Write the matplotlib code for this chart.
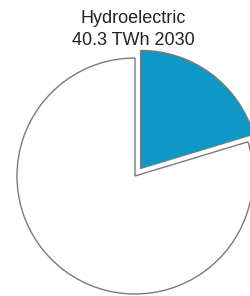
import matplotlib
matplotlib.use("Agg")
import matplotlib.pyplot as plt

# slice values (TWh) - hydro share vs rest
labels = ["Hydroelectric", "Other"]
values = [40.3, 158.0]
colors = ["#0e98c6", "#ffffff"]
explode = [0.08, 0.0]
title_lines = ["Hydroelectric", "40.3 TWh 2030"]

fig = plt.figure(figsize=(2.5, 2.96), dpi=100)
ax = fig.add_axes([0, 0, 1, 1])

ax.pie(values, colors=colors, explode=explode, startangle=90,
       counterclock=False, radius=1.0,
       wedgeprops=dict(edgecolor="#7a7a7a", linewidth=1.0))

# pixel mapping: centre at (135, 176), radius 118 px
ax.set_xlim(-135 / 118, (250 - 135) / 118)
ax.set_ylim(-(296 - 176) / 118, 176 / 118)
ax.set_aspect("auto")
ax.axis("off")

font = ["Liberation Sans", "DejaVu Sans"]
ax.text(-0.013, (176 - 23) / 118, title_lines[0], ha="center", va="baseline",
        fontsize=13, color="#222222", family=font)
ax.text(-0.013, (176 - 45) / 118, title_lines[1], ha="center", va="baseline",
        fontsize=13, color="#222222", family=font)

fig.savefig("out.png", dpi=100)
